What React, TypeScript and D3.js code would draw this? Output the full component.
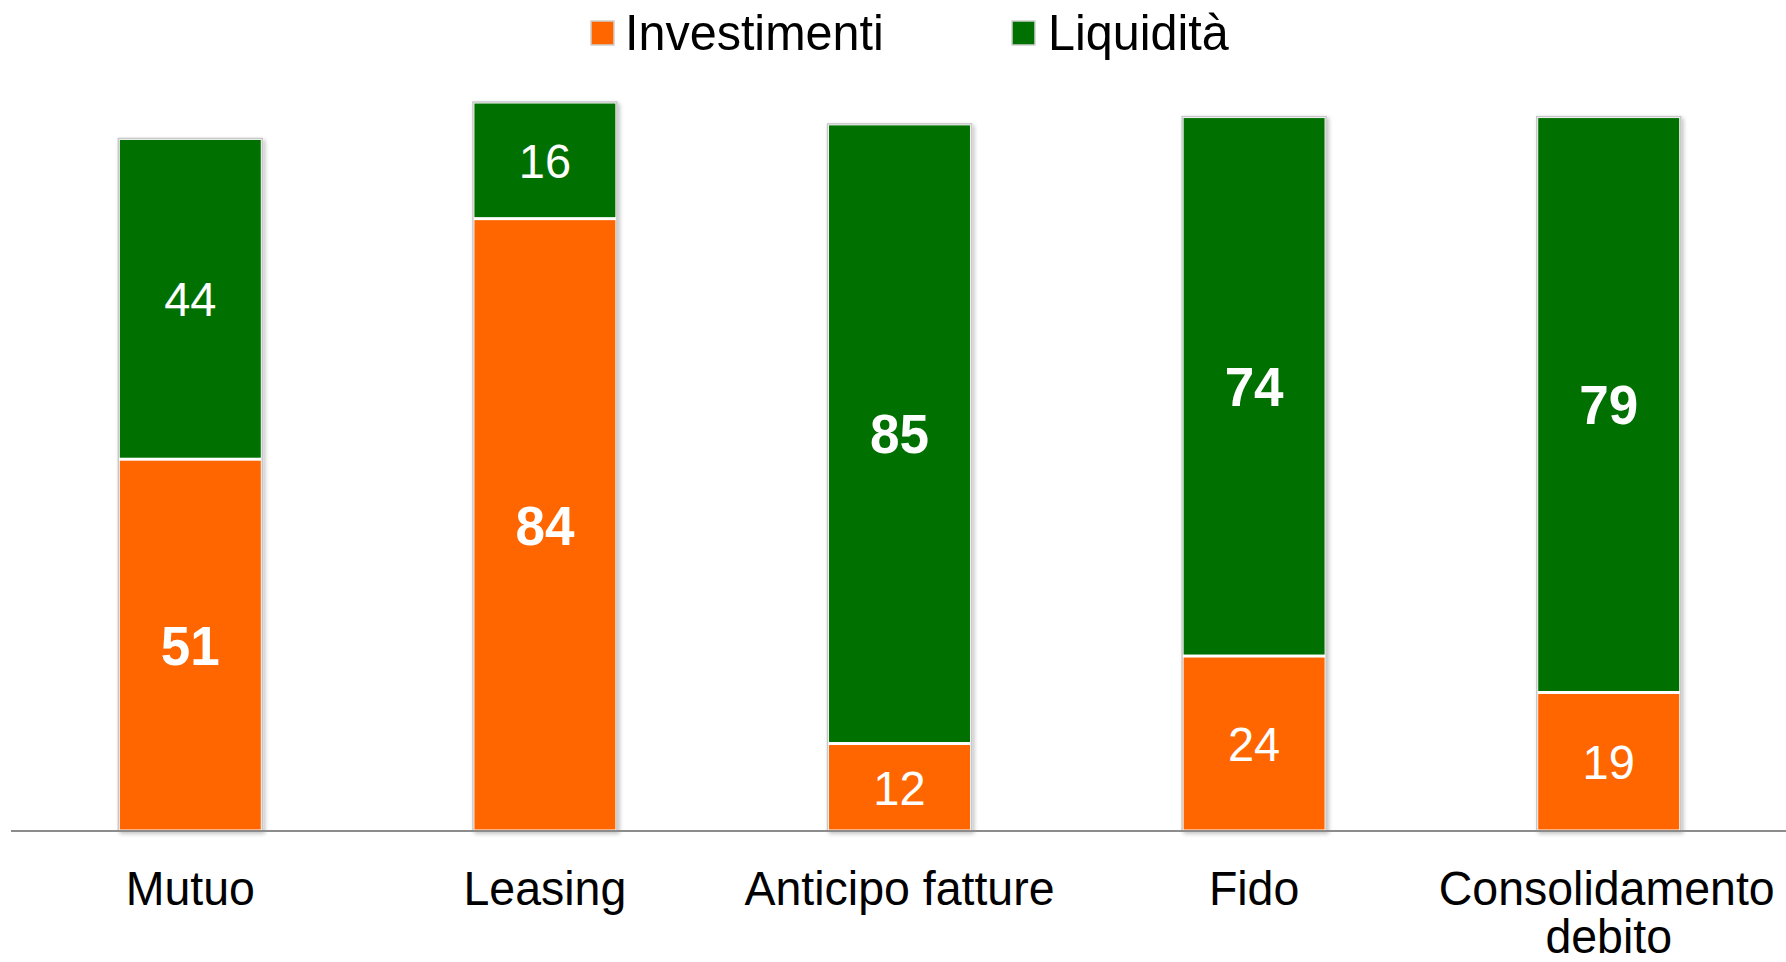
import React from "react";
import * as d3 from "d3";

const categories = ["Mutuo", "Leasing", "Anticipo fatture", "Fido", "Consolidamento debito"];
const investimenti = [51, 84, 12, 24, 19];
const liquidita = [44, 16, 85, 74, 79];
const boldInvest = [true, true, false, false, false];
const boldLiq = [false, false, true, true, true];
const seriesNames = ["Investimenti", "Liquidità"];
const seriesColors = ["#FF6600", "#007100"];

const W = 1786;
const H = 962;
const AXIS_Y = 831;

export default function App() {
  const x = d3
    .scaleBand<string>()
    .domain(categories)
    .range([13, 1786])
    .paddingInner(0.594)
    .paddingOuter(0.297);
  const y = d3.scaleLinear().domain([0, 100]).range([AXIS_Y, 102]);

  const rows = categories.map((c, i) => ({ c, inv: investimenti[i], liq: liquidita[i] }));
  const stack = d3.stack<any>().keys(["inv", "liq"])(rows as any);
  const bolds = [boldInvest, boldLiq];

  const font = "'Liberation Sans', Arial, sans-serif";

  const numLabel = (v: number, cx: number, cy: number, bold: boolean, key: string) => {
    const fs = bold ? 53 : 47;
    const sy = bold ? 1.04 : 1.03;
    const cap = fs * 0.716 * sy;
    return (
      <text
        key={key}
        transform={`translate(${cx},${cy + cap / 2}) scale(1,${sy})`}
        textAnchor="middle"
        fontFamily={font}
        fontSize={fs}
        fontWeight={bold ? "bold" : "normal"}
        fill="#fff"
      >
        {v}
      </text>
    );
  };

  return (
    <svg
      width={W}
      height={H}
      style={{ position: "absolute", left: 0, top: 0, background: "#fff" }}
    >
      <defs>
        <filter id="sh" x="-10%" y="-5%" width="125%" height="115%">
          <feGaussianBlur in="SourceAlpha" stdDeviation="2" />
          <feOffset dx="2" dy="2" result="b" />
          <feComponentTransfer>
            <feFuncA type="linear" slope="0.25" />
          </feComponentTransfer>
          <feMerge>
            <feMergeNode />
            <feMergeNode in="SourceGraphic" />
          </feMerge>
        </filter>
      </defs>

      {/* legend */}
      {[
        { sx: 591, tx: 625 },
        { sx: 1012, tx: 1048 },
      ].map((p, i) => (
        <g key={i}>
          <rect x={p.sx} y={21} width={23} height={24} fill={seriesColors[i]} stroke="#d0d0d0" strokeWidth={1.5} />
          <text
            transform={`translate(${p.tx},50) scale(1,1.03)`}
            fontFamily={font}
            fontSize={48.5}
            fill="#000"
          >
            {seriesNames[i]}
          </text>
        </g>
      ))}

      {/* bars */}
      {categories.map((c, i) => {
        const bx = x(c)!;
        const bw = x.bandwidth();
        const total = investimenti[i] + liquidita[i];
        return (
          <g key={c}>
            <rect
              x={bx}
              y={y(total)}
              width={bw}
              height={y(0) - y(total)}
              fill="#fff"
              stroke="#c8c8c8"
              strokeWidth={1.5}
              filter="url(#sh)"
            />
            {stack.map((s, k) => {
              const d = s[i];
              return (
                <rect
                  key={k}
                  x={bx + 1.5}
                  y={y(d[1]) + 1.5}
                  width={bw - 3}
                  height={y(d[0]) - y(d[1]) - 3}
                  fill={seriesColors[k]}
                />
              );
            })}
          </g>
        );
      })}

      {/* axis line */}
      <line x1={11} x2={W} y1={AXIS_Y} y2={AXIS_Y} stroke="#8c8c8c" strokeWidth={2} />

      {/* value labels */}
      {categories.map((c, i) => {
        const cx = x(c)! + x.bandwidth() / 2;
        return stack.map((s, k) => {
          const d = s[i];
          const cy = (y(d[0]) + y(d[1])) / 2;
          return numLabel(d[1] - d[0], cx, cy, bolds[k][i], `${c}-${k}`);
        });
      })}

      {/* category labels */}
      {categories.map((c) => {
        const cx = x(c)! + x.bandwidth() / 2;
        const words = c === "Consolidamento debito" ? ["Consolidamento", "debito"] : [c];
        return (
          <text
            key={c}
            transform={`translate(${words.length > 1 ? cx - 2 : cx},905) scale(1,1.04)`}
            textAnchor="middle"
            fontFamily={font}
            fontSize={46.5}
            fill="#000"
          >
            {words.map((w, j) => (
              <tspan key={j} x={j > 0 ? 2 : 0} dy={j === 0 ? 0 : 46.5}>
                {w}
              </tspan>
            ))}
          </text>
        );
      })}
    </svg>
  );
}
